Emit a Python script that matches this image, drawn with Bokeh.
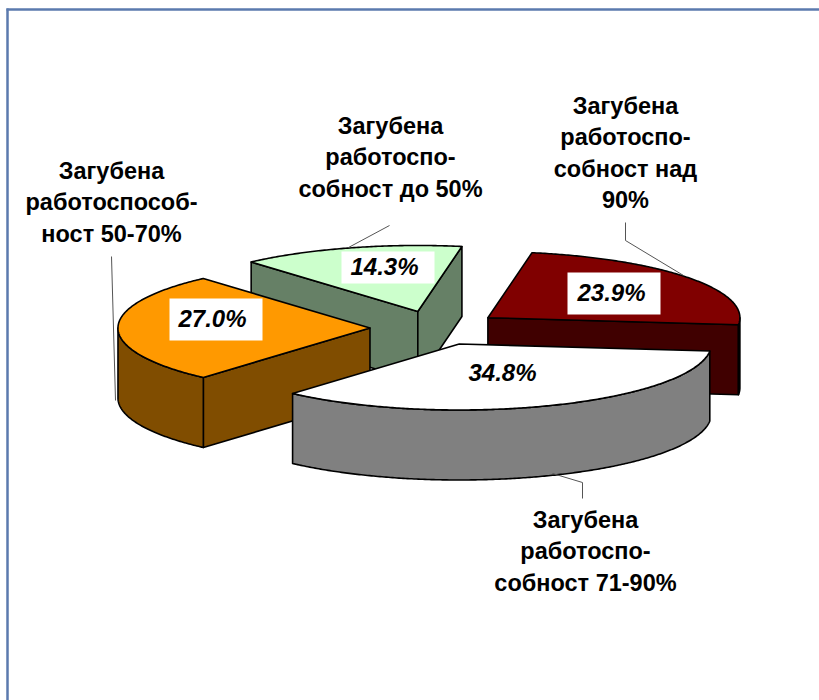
import math
from bokeh.plotting import figure
from bokeh.models import Range1d
from bokeh.core.properties import value
from bokeh.embed import file_html
from bokeh.resources import INLINE

# Data, clockwise from the starting angle
names = ["до 50%", "над 90%", "71-90%", "50-70%"]
shares = [14.3, 23.9, 34.8, 27.0]
share_labels = ["14.3%", "23.9%", "34.8%", "27.0%"]
top_colors = ["#CCFFCC", "#800000", "#FFFFFF", "#FF9900"]
side_colors = ["#668066", "#400000", "#808080", "#804D00"]
category_labels = [
    ["Загубена", "работоспо-", "собност до 50%"],
    ["Загубена", "работоспо-", "собност над", "90%"],
    ["Загубена", "работоспо-", "собност 71-90%"],
    ["Загубена", "работоспособ-", "ност 50-70%"],
]

# Layout
CX, CY, RX, RY, DEPTH, EXPLODE = 435, 327.5, 252, 66, 70, 0.26
START = 131.4
label_centres = [(390, 125), (625, 105), (585, 519), (111, 170)]
box_centres = [(387.5, 267), (613.5, 293), None, (215.5, 319)]
box_heights = [32, 42, 0, 42]
share_centres = [(384, 266), (611, 292), (502, 372), (212, 318)]
leaders = [
    ([348, 389], [247, 225]),
    ([625, 625, 683], [222, 240, 275]),
    ([552, 582, 582], [473, 482, 498]),
    ([111, 115], [256, 400]),
]

p = figure(width=819, height=700, x_range=Range1d(0, 819), y_range=Range1d(700, 0),
           output_backend="svg", toolbar_location=None, min_border=0,
           outline_line_color=None)
p.axis.visible = False
p.grid.visible = False

# Frame
p.line([7, 7], [8, 700], line_color="#5B7AAE", line_width=2.5)
p.line([6, 819], [9, 9], line_color="#5B7AAE", line_width=2.5)


def rim(ax, ay, a0, a1):
    n = max(2, int(abs(a1 - a0) * 2))
    angs = [math.radians(a0 + (a1 - a0) * i / n) for i in range(n + 1)]
    return [ax + RX * math.cos(t) for t in angs], [ay - RY * math.sin(t) for t in angs]


def face(xs, ys, color):
    p.patch(xs, ys, fill_color=color, line_color="black", line_width=1.6, line_join="round")


# Slices from back to front
slices = []
a = START
for s in shares:
    slices.append((a, a - s * 3.6))
    a -= s * 3.6

for i in [0, 1, 3, 2]:
    a0, a1 = slices[i]
    mid = math.radians((a0 + a1) / 2)
    ax = CX + EXPLODE * RX * math.cos(mid)
    ay = CY - EXPLODE * RY * math.sin(mid)
    tx, ty = rim(ax, ay, a0, a1)

    # straight walls that face the viewer
    for (x1, y1, x2, y2) in [(ax, ay, tx[0], ty[0]), (tx[-1], ty[-1], ax, ay)]:
        if (x2 - x1) < 0 or (i == 0):
            if (x1, y1, x2, y2) == (ax, ay, tx[0], ty[0]) and x2 > x1:
                continue
            face([x1, x2, x2, x1], [y1, y2, y2 + DEPTH, y1 + DEPTH], side_colors[i])

    # front part of the curved wall
    lo, hi = min(a0, a1), max(a0, a1)
    vis = []
    for lo_v, hi_v in [(-180, 0), (180, 360), (-540, -360)]:
        l, h = max(lo, lo_v), min(hi, hi_v)
        if l < h:
            vis.append((l, h))
    for l, h in vis:
        rx, ry = rim(ax, ay, h, l)
        face(rx + rx[::-1], ry + [y + DEPTH for y in ry[::-1]], side_colors[i])

    # top
    face([ax] + tx, [ay] + ty, top_colors[i])

# Leaders
for lx, ly in leaders:
    p.line(lx, ly, line_color="#555555", line_width=1)

# Share labels
for (x, y), lab, box, bh in zip(share_centres, share_labels, box_centres, box_heights):
    if box:
        p.rect([box[0]], [box[1]], width=93, height=bh, fill_color="white", line_color=None)
    p.text([x], [y], text=[lab], text_font=value("Liberation Sans"), text_font_style="bold italic",
           text_font_size="24px", text_align="center", text_baseline="middle", text_color="black")

# Category labels
for (x, y), lines in zip(label_centres, category_labels):
    for j, t in enumerate(lines):
        p.text([x], [y + j * 31.6], text=[t], text_font=value("Liberation Sans"), text_font_style="bold",
               text_font_size="23.5px", text_align="center", text_baseline="middle", text_color="black")

open("out.html", "w").write(file_html(p, INLINE))
